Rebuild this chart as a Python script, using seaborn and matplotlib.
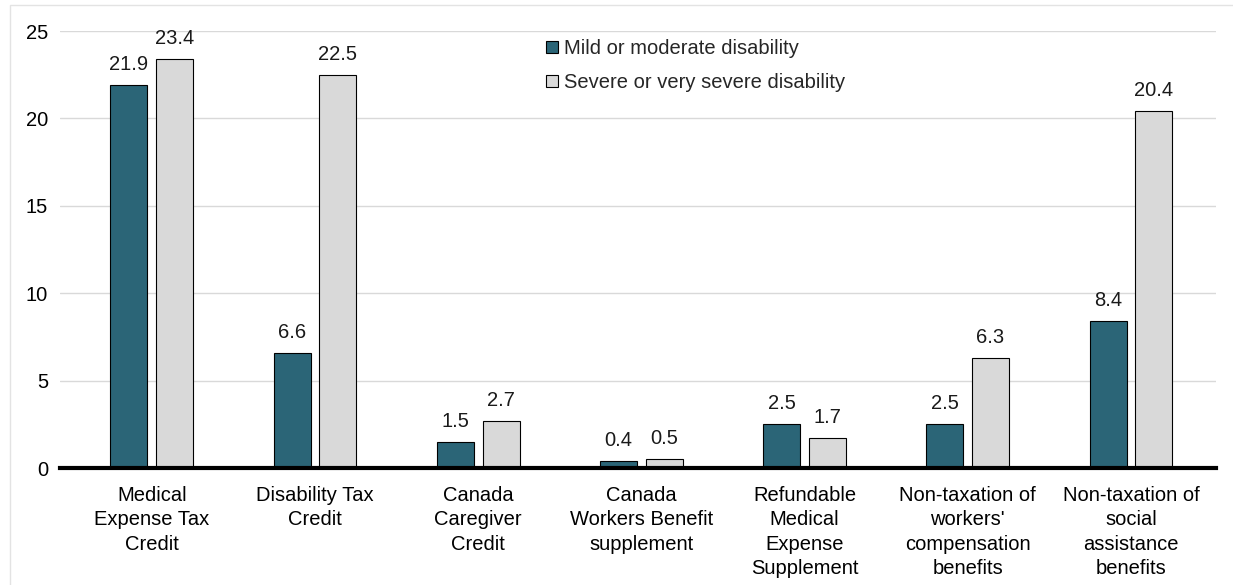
import matplotlib
matplotlib.use("Agg")
import matplotlib.pyplot as plt
from matplotlib.patches import Rectangle
import seaborn as sns
import pandas as pd

categories = [
    "Medical\nExpense Tax\nCredit",
    "Disability Tax\nCredit",
    "Canada\nCaregiver\nCredit",
    "Canada\nWorkers Benefit\nsupplement",
    "Refundable\nMedical\nExpense\nSupplement",
    "Non-taxation of\nworkers'\ncompensation\nbenefits",
    "Non-taxation of\nsocial\nassistance\nbenefits",
]
series_names = ["Mild or moderate disability", "Severe or very severe disability"]
mild = [21.9, 6.6, 1.5, 0.4, 2.5, 2.5, 8.4]
severe = [23.4, 22.5, 2.7, 0.5, 1.7, 6.3, 20.4]
yticks = [0, 5, 10, 15, 20, 25]

df = pd.DataFrame({
    "category": categories * 2,
    "group": [series_names[0]] * len(categories) + [series_names[1]] * len(categories),
    "value": mild + severe,
})

sns.set_theme(style="white")
plt.rcParams["font.family"] = ["Liberation Sans", "DejaVu Sans"]
FS = 14.5

fig = plt.figure(figsize=(12.33, 5.85), dpi=100)
ax = fig.add_axes([0.049, 0.2, 0.937, 0.747])

palette = {series_names[0]: "#2b6577", series_names[1]: "#d9d9d9"}
sns.barplot(data=df, x="category", y="value", hue="group", order=categories,
            hue_order=series_names, palette=palette, width=0.56, gap=0.19,
            edgecolor="black", linewidth=0.8, saturation=1, ax=ax, zorder=3)

for container in ax.containers:
    ax.bar_label(container, fmt="%.1f", padding=8, fontsize=FS, color="#1a1a1a")

ax.set_ylim(0, 25)
ax.set_xlim(-0.56, 6.52)
ax.set_yticks(yticks)
ax.yaxis.grid(True, color="#d9d9d9", linewidth=1, zorder=0)
ax.set_axisbelow(True)
for side in ["left", "right", "top"]:
    ax.spines[side].set_visible(False)
ax.spines["bottom"].set_color("black")
ax.spines["bottom"].set_linewidth(3)
ax.spines["bottom"].set_zorder(5)
ax.tick_params(axis="y", length=0, labelsize=FS, pad=9, labelcolor="black")
ax.tick_params(axis="x", length=0, labelsize=FS, pad=13, labelcolor="black")
for lbl in ax.get_xticklabels():
    lbl.set_linespacing(1.36)
ax.set_xlabel("")
ax.set_ylabel("")

leg = ax.legend(loc="upper left", bbox_to_anchor=(0.413, 1.0), frameon=False,
                fontsize=FS, handlelength=0.6, handleheight=0.6,
                handletextpad=0.3, labelspacing=0.75, borderaxespad=0)
for h in leg.legend_handles:
    h.set_edgecolor("black")
    h.set_linewidth(0.8)

# thin frame around the figure
fig.add_artist(Rectangle((10 / 1233, -0.01), 1.02, 1 - 5 / 585 + 0.01,
                         transform=fig.transFigure, fill=False,
                         edgecolor="#e3e3e3", linewidth=1))

fig.savefig("out.png", dpi=100)
